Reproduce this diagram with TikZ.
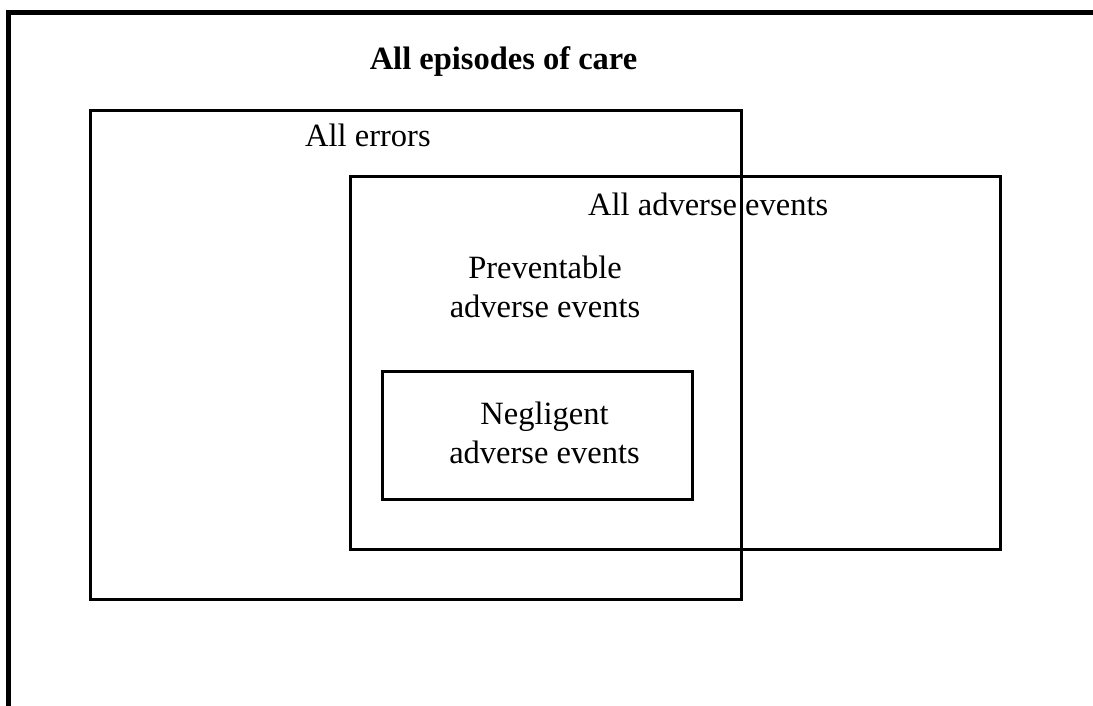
\documentclass[tikz,border=0pt]{standalone}
\usepackage{fontspec}
\setmainfont{Liberation Serif}
\begin{document}
\begin{tikzpicture}[x=1pt,y=-1pt,
  setbox/.style={draw=black,line width=3pt,fill=none},
  lbl/.style={inner sep=0pt,font=\fontsize{32.5}{38.5}\selectfont,align=center},
  frame/.style={line width=5pt,line cap=butt}]
\useasboundingbox (0,0) rectangle (1093,706);
\fill[white] (0,0) rectangle (1093,706);
% outer frame (top and left sides)
\coordinate (ftr) at (1093,12.5);
\coordinate (ftl) at (8.5,12.5);
\coordinate (fbl) at (8.5,706);
\draw[frame] (ftr) -- (6,12.5) (ftl) -- (fbl);
% set boxes
\node[setbox,minimum width=651pt,minimum height=488pt,anchor=north west] (errors) at (88.5,109.5) {};
\node[setbox,minimum width=650pt,minimum height=373pt,anchor=north west] (adverse) at (348.5,175) {};
\node[setbox,minimum width=310pt,minimum height=128pt,anchor=north west] (neglig) at (380.5,370) {};
% labels
\node[lbl,anchor=base,font=\fontsize{32.5}{38.5}\selectfont\bfseries] (title) at (503.5,70) {All episodes of care};
\node[lbl,anchor=base west] (errlbl) at (305,147) {All errors};
\node[lbl,anchor=base west] (advlbl) at (588,215) {All adverse events};
\node[lbl,anchor=base] (prevlbl) at (545,317) {Preventable\\adverse events};
\node[lbl,anchor=base] (negllbl) at (544.5,463) {Negligent\\adverse events};
\end{tikzpicture}
\end{document}
